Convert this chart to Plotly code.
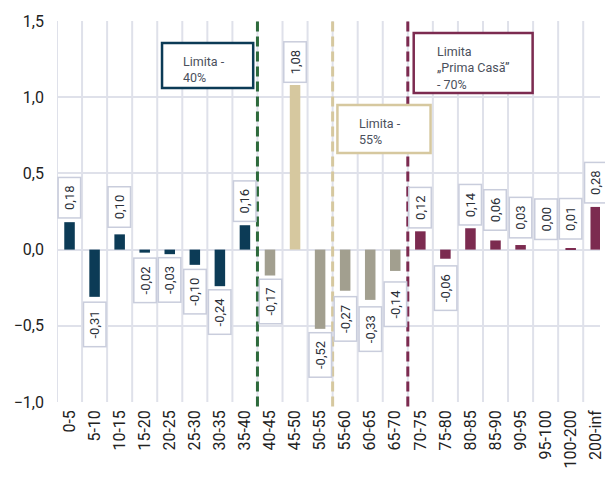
import plotly.graph_objects as go

categories = ["0-5", "5-10", "10-15", "15-20", "20-25", "25-30", "30-35", "35-40",
              "40-45", "45-50", "50-55", "55-60", "60-65", "65-70",
              "70-75", "75-80", "80-85", "85-90", "90-95", "95-100", "100-200", "200-inf"]
values = [0.18, -0.31, 0.10, -0.02, -0.03, -0.10, -0.24, 0.16,
          -0.17, 1.08, -0.52, -0.27, -0.33, -0.14,
          0.12, -0.06, 0.14, 0.06, 0.03, 0.00, 0.01, 0.28]
label_texts = ["0,18", "-0,31", "0,10", "-0,02", "-0,03", "-0,10", "-0,24", "0,16",
               "-0,17", "1,08", "-0,52", "-0,27", "-0,33", "-0,14",
               "0,12", "-0,06", "0,14", "0,06", "0,03", "0,00", "0,01", "0,28"]
groups = ["a"] * 8 + ["b", "c", "b", "b", "b", "b"] + ["d"] * 8
limit_positions = [7.5, 10.5, 13.5]
limit_texts = ["Limita -<br>40%", "Limita -<br>55%", "Limita<br>„Prima Casă”<br>- 70%"]

NAVY = "#0c3b56"
TAN = "#d6c89f"
GREY = "#a29f8f"
MAROON = "#7c2b50"
GREEN = "#2d6a3c"
GRID = "#dfe1ea"
BOX = "#c9cddc"

group_colors = {"a": NAVY, "b": GREY, "c": TAN, "d": MAROON}
bar_colors = [group_colors[g] for g in groups]

fig = go.Figure()
fig.add_trace(go.Bar(
    x=list(range(len(categories))), y=values,
    marker=dict(color=bar_colors, line=dict(width=0)),
    width=0.42, hoverinfo="skip",
))

# value labels in boxes (label gap in px, default 3)
label_gap = {1: 5, 2: 6, 3: 5, 5: 4, 9: 2, 11: 5, 12: 6, 13: 10, 15: 6,
             17: 9, 18: 6, 19: 9, 20: 8}
for i, (v, t) in enumerate(zip(values, label_texts)):
    pos = v >= 0
    g = label_gap.get(i, 3)
    fig.add_annotation(
        x=i, y=v, xref="x", yref="y", text=t, showarrow=False,
        textangle=-90, font=dict(family="Roboto", size=13, color="#2b2f38"),
        bgcolor="white", bordercolor=BOX, borderwidth=1.5, borderpad=3,
        width=33 if pos else 37, align="center",
        yanchor="bottom" if pos else "top",
        yshift=g if pos else -g,
    )

# limit dashed lines
line_colors = [GREEN, TAN, MAROON]
for xp, c in zip(limit_positions, line_colors):
    fig.add_shape(type="line", xref="x", yref="paper", x0=xp, x1=xp, y0=-0.012, y1=1,
                  line=dict(color=c, width=3, dash="10px,5px"), layer="above")

# limit boxes (paper coords; plot spans x 57..605, y 21..402 px)
def px(xp):
    return (xp - 57) / 548.0

def py(yp):
    return (402 - yp) / 381.0

boxes = [
    (163, 255, 43, 88, 182, 69.5, NAVY),
    (340, 434, 105, 153, 360, 131, TAN),
    (417, 537, 33, 93, 438, 67.5, MAROON),
]
for (x0, x1, y0, y1, tx, ty, c), txt in zip(boxes, limit_texts):
    fig.add_shape(type="rect", xref="paper", yref="paper",
                  x0=px(x0), x1=px(x1), y0=py(y1), y1=py(y0),
                  line=dict(color=c, width=2.5), fillcolor="white", layer="above")
    fig.add_annotation(xref="paper", yref="paper", x=px(tx), y=py(ty),
                       xanchor="left", yanchor="middle", align="left",
                       text=txt, showarrow=False,
                       font=dict(family="Roboto", size=12.5, color="#4b505c"))

fig.update_layout(
    width=605, height=478,
    margin=dict(l=57, r=0, t=21, b=76),
    paper_bgcolor="white", plot_bgcolor="white",
    separators=", ",
    showlegend=False,
    font=dict(family="Roboto", color="#222222"),
)
fig.update_xaxes(
    tickmode="array", tickvals=list(range(len(categories))), ticktext=categories,
    range=[-0.5, 21.17], tickangle=-90,
    tickfont=dict(family="Roboto", size=16, color="#222222"),
    showgrid=False, zeroline=False, showline=False, ticks="",
    ticklabelstandoff=4, ticklabeloverflow="allow",
)
# vertical gridlines at category boundaries
for b in range(len(categories)):
    fig.add_vline(x=b - 0.5, line=dict(color=GRID, width=2), layer="below")
fig.update_yaxes(
    range=[-1.0, 1.5], dtick=0.5, tickformat=".1f",
    tickfont=dict(family="Roboto", size=16, color="#222222"),
    showgrid=True, gridcolor=GRID, gridwidth=2,
    zeroline=True, zerolinecolor=GRID, zerolinewidth=2,
    showline=False, ticks="", ticklabelstandoff=12,
)

fig.write_html("out.html", config={"displayModeBar": False},
               post_script="document.body.style.margin='0';document.body.style.overflow='hidden';")
